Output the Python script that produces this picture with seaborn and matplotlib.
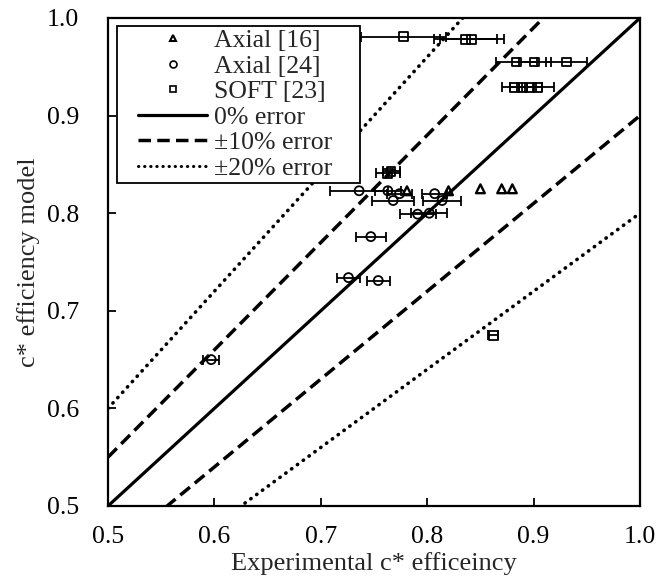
import numpy as np
import pandas as pd
import matplotlib
matplotlib.use("Agg")
import matplotlib.pyplot as plt
from matplotlib.lines import Line2D
from matplotlib.legend_handler import HandlerLine2D
import seaborn as sns

# Axial [16] - sem barras de erro
axial16_x = [0.781, 0.820, 0.850, 0.870, 0.880]
axial16_y = [0.823, 0.823, 0.825, 0.825, 0.825]

# Axial [24]
axial24_x = [0.597, 0.726, 0.754, 0.747, 0.736, 0.763, 0.768, 0.774, 0.807, 0.814, 0.791, 0.802]
axial24_y = [0.650, 0.734, 0.731, 0.776, 0.823, 0.823, 0.813, 0.820, 0.820, 0.813, 0.799, 0.800]
axial24_err = [0.0075, 0.011, 0.011, 0.014, 0.027, 0.012, 0.020, 0.012, 0.012, 0.018, 0.017, 0.017]

# SOFT [23]
soft23_x = [0.778, 0.836, 0.842, 0.884, 0.901, 0.931, 0.882, 0.890, 0.896, 0.904, 0.763, 0.766, 0.862]
soft23_y = [0.981, 0.978, 0.978, 0.955, 0.955, 0.955, 0.929, 0.929, 0.929, 0.929, 0.841, 0.843, 0.675]
soft23_err = [0.040, 0.030, 0.030, 0.019, 0.015, 0.019, 0.012, 0.012, 0.012, 0.015, 0.011, 0.008, 0.005]

# Linhas de erro: fator multiplicativo sobre y = x
error_factors = [1.0, 1.1, 0.9, 1.2, 0.8]
error_styles = ["-", "--", "--", ":", ":"]
axis_range = [0.5, 1.0]
ticks = [0.5, 0.6, 0.7, 0.8, 0.9, 1.0]

legend_labels = ["Axial [16]", "Axial [24]", "SOFT [23]", "0% error", "\u00b110% error", "\u00b120% error"]

DASH = (0, (3.6, 1.8))
DOT = (0, (0.1, 1.9))

sns.set_style("white")
plt.rcParams["font.family"] = ["Liberation Serif", "DejaVu Serif"]

fig = plt.figure(figsize=(6.56, 5.79), dpi=100)
ax = fig.add_axes([108 / 656, 73 / 579, 532 / 656, 488 / 579])

# Linhas de referencia
x_line = np.array(axis_range)
for factor, style in zip(error_factors, error_styles):
    lines_df = pd.DataFrame({"x": x_line, "y": x_line * factor})
    sns.lineplot(data=lines_df, x="x", y="y", ax=ax, color="black", legend=False, zorder=2)
    line = ax.lines[-1]
    if style == "-":
        line.set_linewidth(2.3)
    elif style == "--":
        line.set_linewidth(2.5)
        line.set_linestyle(DASH)
    else:
        line.set_linewidth(2.6)
        line.set_linestyle(DOT)
        line.set_dash_capstyle("round")

# Barras de erro horizontais
for xs, ys, errs in [(axial24_x, axial24_y, axial24_err), (soft23_x, soft23_y, soft23_err)]:
    ax.errorbar(xs, ys, xerr=errs, fmt="none", ecolor="black",
                elinewidth=1.3, capsize=3.8, capthick=1.3, zorder=3)

# Marcadores
sns.scatterplot(x=axial16_x, y=axial16_y, ax=ax, marker="^", s=40,
                facecolors="none", edgecolor="black", linewidth=1.7, zorder=4)
sns.scatterplot(x=axial24_x, y=axial24_y, ax=ax, marker="o", s=42,
                facecolors="none", edgecolor="black", linewidth=1.3, zorder=4)
sns.scatterplot(x=soft23_x, y=soft23_y, ax=ax, marker="s", s=40,
                facecolors="none", edgecolor="black", linewidth=1.3, zorder=4)

ax.set_xlim(axis_range)
ax.set_ylim(axis_range)
ax.set_xticks(ticks)
ax.set_yticks(ticks)
ax.set_xticklabels([f"{t:.1f}" for t in ticks])
ax.set_yticklabels([f"{t:.1f}" for t in ticks])
ax.tick_params(direction="in", length=6, width=1.3, labelsize=18.5, colors="black",
               bottom=True, left=True, top=False, right=False)
ax.tick_params(axis="x", pad=14.5)
ax.tick_params(axis="y", pad=21)
for spine in ax.spines.values():
    spine.set_color("black")
    spine.set_linewidth(1.6)

ax.set_xlabel("Experimental c* efficeincy", fontsize=19, labelpad=3)
ax.set_ylabel("c* efficiency model", fontsize=19, labelpad=5)

# Legenda
handles = [
    Line2D([], [], marker="^", ls="none", mfc="none", mec="black", ms=5, mew=1.5),
    Line2D([], [], marker="o", ls="none", mfc="none", mec="black", ms=5, mew=1.2),
    Line2D([], [], marker="s", ls="none", mfc="none", mec="black", ms=5, mew=1.2),
    Line2D([], [], color="black", ls="-", lw=2.3),
    Line2D([], [], color="black", ls=DASH, lw=2.5),
    Line2D([], [], color="black", ls=DOT, lw=2.2, dash_capstyle="round"),
]
leg = ax.legend(handles, [lab + "   \u2009" for lab in legend_labels], loc="upper left",
                bbox_to_anchor=(9 / 532, 1 - 8 / 488), borderaxespad=0, fontsize=18.5,
                frameon=True, fancybox=False, edgecolor="black", framealpha=1,
                handlelength=3.4, handletextpad=0.27, labelspacing=0.1, borderpad=0.12,
                handler_map={Line2D: HandlerLine2D(xpad=0.7)})
leg.get_frame().set_linewidth(1.3)

fig.savefig("out.png", dpi=100)
